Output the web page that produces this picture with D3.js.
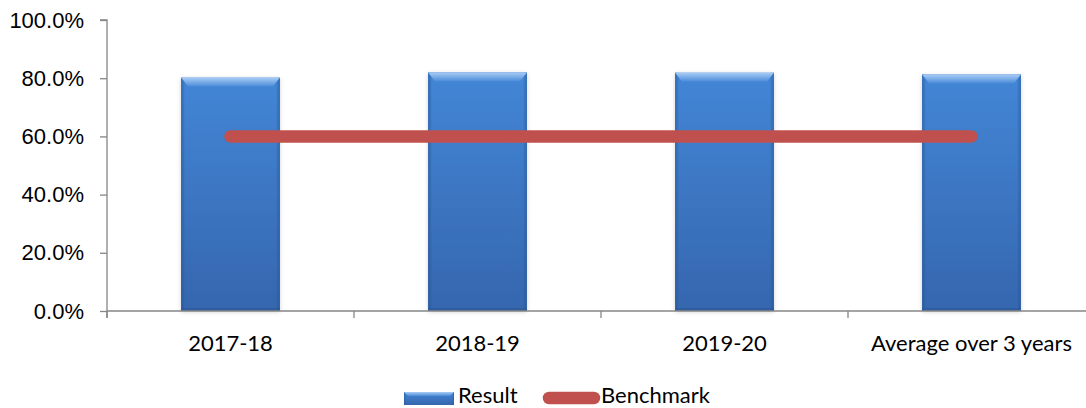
<!DOCTYPE html>
<html>
<head>
<meta charset="utf-8">
<script src="https://cdn.jsdelivr.net/npm/d3@7"></script>
<style>
  body { margin: 0; background: #fff; }
  svg { display: block; font-family: Lato, 'Open Sans', sans-serif; }
</style>
</head>
<body>
<div id="chart"></div>
<script>
// chart data
var categories = ['2017-18', '2018-19', '2019-20', 'Average over 3 years']
var results    = [0.802, 0.820, 0.819, 0.813]
var benchmark  = [0.60, 0.60, 0.60, 0.60]
var yTicks     = [0, 0.2, 0.4, 0.6, 0.8, 1.0]
var legendLabels = ['Result', 'Benchmark']

var W = 1086, H = 408
var margin = {top: 20, left: 107, bottom: 97}
var plotRight = 1095
var fontSize = '22px'

var svg = d3.select('#chart').append('svg').attr('width', W).attr('height', H)

var defs = svg.append('defs')
var grad = defs.append('linearGradient').attr('id', 'barFill').attr('x1', 0).attr('y1', 0).attr('x2', 0).attr('y2', 1)
grad.append('stop').attr('offset', '0%').attr('stop-color', '#4386d6')
grad.append('stop').attr('offset', '100%').attr('stop-color', '#3566ae')
var side = defs.append('linearGradient').attr('id', 'barSide').attr('x1', 0).attr('y1', 0).attr('x2', 1).attr('y2', 0)
side.append('stop').attr('offset', '0%').attr('stop-color', '#1f4f8f').attr('stop-opacity', 0.55)
side.append('stop').attr('offset', '4%').attr('stop-color', '#1f4f8f').attr('stop-opacity', 0)
side.append('stop').attr('offset', '96%').attr('stop-color', '#1f4f8f').attr('stop-opacity', 0)
side.append('stop').attr('offset', '100%').attr('stop-color', '#1f4f8f').attr('stop-opacity', 0.55)
var topG = defs.append('linearGradient').attr('id', 'barTop').attr('x1', 0).attr('y1', 0).attr('x2', 0).attr('y2', 1)
topG.append('stop').attr('offset', '0%').attr('stop-color', '#a9cdf5')
topG.append('stop').attr('offset', '100%').attr('stop-color', '#4a8bd9')
defs.append('filter').attr('id', 'shadow').attr('x', '-10%').attr('y', '-10%').attr('width', '120%').attr('height', '120%')
  .append('feDropShadow').attr('dx', 0).attr('dy', 1).attr('stdDeviation', 2).attr('flood-color', '#000').attr('flood-opacity', 0.18)

var x = d3.scaleBand().domain(categories).range([margin.left, plotRight]).paddingInner(0.6).paddingOuter(0.3)
var y = d3.scaleLinear().domain([0, 1]).range([H - margin.bottom, margin.top])
var axisColor = '#868686'

// y axis
var yAxis = svg.append('g').attr('transform', 'translate(' + margin.left + ',0)')
  .call(d3.axisLeft(y).tickValues(yTicks).tickFormat(d3.format('.1%')).tickSize(7).tickPadding(16))
yAxis.select('.domain').attr('stroke', axisColor).attr('stroke-width', 1.3).attr('d', 'M-7,' + y(1) + 'H0V' + (y(0) + 7))
yAxis.selectAll('.tick line').attr('stroke', axisColor).attr('stroke-width', 1.3)
yAxis.selectAll('.tick text').attr('fill', '#000').style('font-size', fontSize)

// bars
var bars = svg.append('g')
categories.forEach(function(c, i) {
  var bx = x(c), bw = x.bandwidth(), by = y(results[i]), bh = y(0) - y(results[i])
  var g = bars.append('g')
  g.append('rect').attr('x', bx).attr('y', by).attr('width', bw).attr('height', bh)
    .attr('fill', 'url(#barFill)').attr('filter', 'url(#shadow)')
  g.append('rect').attr('x', bx).attr('y', by).attr('width', bw).attr('height', bh).attr('fill', 'url(#barSide)')
  g.append('path').attr('d', 'M' + bx + ',' + by + 'h' + bw + 'l-7,9h' + (-(bw - 14)) + 'z').attr('fill', 'url(#barTop)')
  g.append('rect').attr('x', bx).attr('y', y(0) - 3).attr('width', bw).attr('height', 3).attr('fill', '#2a568f').attr('opacity', 0.5)
})

// x axis
var xAxisG = svg.append('g').attr('transform', 'translate(0,' + y(0) + ')')
xAxisG.append('line').attr('x1', margin.left).attr('x2', W).attr('stroke', axisColor).attr('stroke-width', 1.3)
var step = x.step()
d3.range(categories.length + 1).forEach(function(k) {
  var tx = margin.left + k * step
  xAxisG.append('line').attr('x1', tx).attr('x2', tx).attr('y1', 0).attr('y2', 7).attr('stroke', axisColor).attr('stroke-width', 1.3)
})
categories.forEach(function(c) {
  xAxisG.append('text').attr('x', x(c) + x.bandwidth() / 2).attr('y', 40)
    .attr('text-anchor', 'middle').style('font-size', fontSize).attr('fill', '#000').text(c)
})

// benchmark line
var line = d3.line().x(function(d, i) { return x(categories[i]) + x.bandwidth() / 2 }).y(function(d) { return y(d) })
svg.append('path').datum(benchmark).attr('d', line).attr('fill', 'none')
  .attr('stroke', '#c0504d').attr('stroke-width', 12.5).attr('stroke-linecap', 'round')

// legend
var leg = svg.append('g')
leg.append('rect').attr('x', 404).attr('y', 392).attr('width', 50).attr('height', 13).attr('fill', 'url(#barFill)')
leg.append('rect').attr('x', 404).attr('y', 392).attr('width', 50).attr('height', 13).attr('fill', 'url(#barSide)')
leg.append('path').attr('d', 'M404,392h50l-4,4h-42z').attr('fill', 'url(#barTop)')
leg.append('text').attr('x', 458).attr('y', 403).style('font-size', fontSize).text(legendLabels[0])
leg.append('line').attr('x1', 549).attr('x2', 594).attr('y1', 398).attr('y2', 398)
  .attr('stroke', '#c0504d').attr('stroke-width', 12.5).attr('stroke-linecap', 'round')
leg.append('text').attr('x', 601).attr('y', 403).style('font-size', fontSize).text(legendLabels[1])
</script>
</body>
</html>
